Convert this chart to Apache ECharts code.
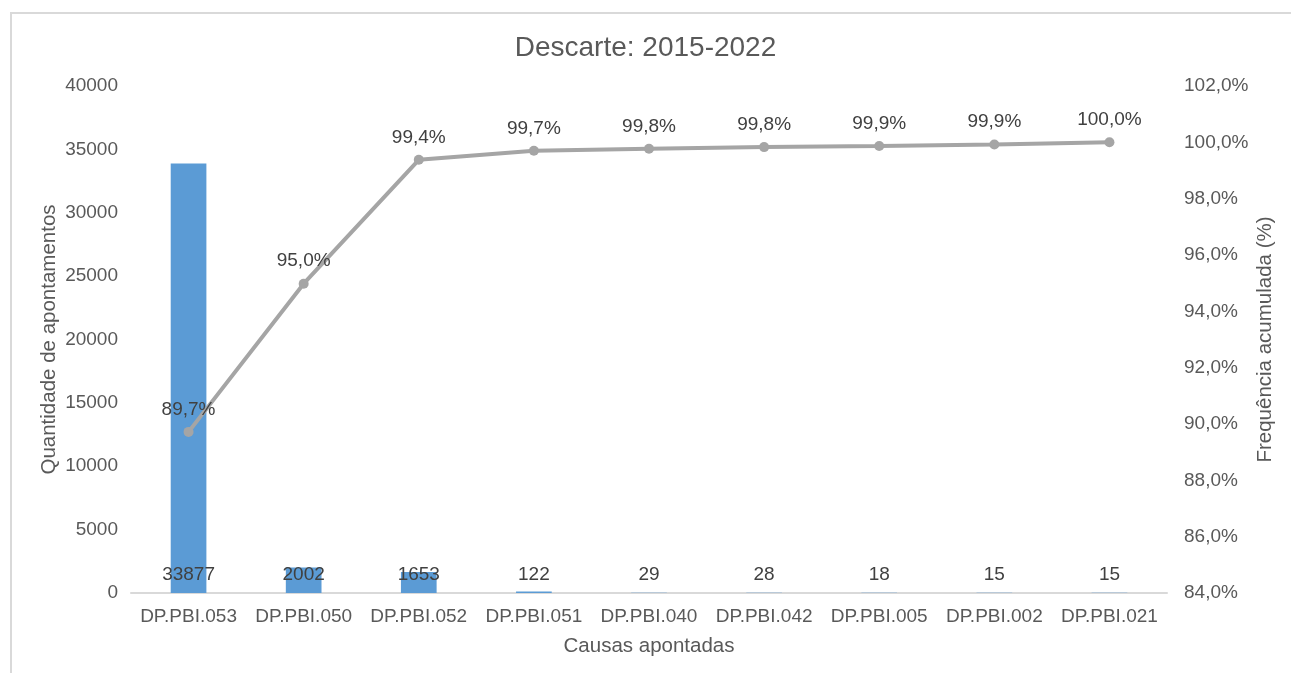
<!DOCTYPE html>
<html>
<head>
<meta charset="utf-8">
<script src="https://cdn.jsdelivr.net/npm/echarts@6/dist/echarts.min.js"></script>
<style>
html,body{margin:0;padding:0;background:#fff;}
#frame{position:absolute;left:10px;top:12px;width:1290px;height:680px;border-left:2px solid #D9D9D9;border-top:2px solid #D9D9D9;}
#chart{position:absolute;left:0;top:0;width:1291px;height:673px;}
</style>
</head>
<body>
<div id="frame"></div>
<div id="chart"></div>
<script>
const categories = ['DP.PBI.053','DP.PBI.050','DP.PBI.052','DP.PBI.051','DP.PBI.040','DP.PBI.042','DP.PBI.005','DP.PBI.002','DP.PBI.021'];
const counts = [33877, 2002, 1653, 122, 29, 28, 18, 15, 15];
const cumulative = [89.72, 94.98, 99.38, 99.70, 99.77, 99.83, 99.87, 99.92, 100.0];
const leftTicks = {min: 0, max: 40000, interval: 5000};
const rightTicks = {min: 84, max: 102, interval: 2};

const FONT = '"Liberation Sans", Arial, sans-serif';
const chart = echarts.init(document.getElementById('chart'), null, {renderer: 'canvas'});
chart.setOption({
  animation: false,
  backgroundColor: 'transparent',
  textStyle: {fontFamily: FONT},
  title: {
    text: 'Descarte: 2015-2022',
    left: 'center',
    top: 29,
    textStyle: {fontFamily: FONT, fontSize: 28, fontWeight: 'normal', color: '#595959'}
  },
  grid: {left: 131, right: 124, top: 86, bottom: 80, containLabel: false},
  xAxis: {
    type: 'category',
    data: categories,
    name: 'Causas apontadas',
    nameLocation: 'middle',
    nameGap: 43,
    nameMoveOverlap: false,
    nameTextStyle: {fontFamily: FONT, fontSize: 20.5, color: '#595959'},
    axisLine: {lineStyle: {color: '#D9D9D9', width: 2}},
    axisTick: {show: false},
    axisLabel: {interval: 0, fontFamily: FONT, fontSize: 19, color: '#595959', margin: 14}
  },
  yAxis: [{
    type: 'value',
    min: leftTicks.min, max: leftTicks.max, interval: leftTicks.interval,
    name: 'Quantidade de apontamentos',
    nameLocation: 'middle',
    nameGap: 71,
    nameMoveOverlap: false,
    nameTextStyle: {fontFamily: FONT, fontSize: 20.5, color: '#595959'},
    axisLine: {show: false},
    axisTick: {show: false},
    splitLine: {show: false},
    axisLabel: {fontFamily: FONT, fontSize: 19, color: '#595959', margin: 13,
      formatter: v => String(v)}
  }, {
    type: 'value',
    min: rightTicks.min, max: rightTicks.max, interval: rightTicks.interval,
    name: 'Frequência acumulada (%)',
    nameLocation: 'middle',
    nameGap: 88,
    nameRotate: 90,
    nameMoveOverlap: false,
    nameTextStyle: {fontFamily: FONT, fontSize: 20.5, color: '#595959'},
    axisLine: {show: false},
    axisTick: {show: false},
    splitLine: {show: false},
    axisLabel: {fontFamily: FONT, fontSize: 19, color: '#595959', margin: 17,
      formatter: v => v.toFixed(1).replace('.', ',') + '%'}
  }],
  series: [{
    type: 'bar',
    data: counts,
    yAxisIndex: 0,
    barWidth: '31%',
    itemStyle: {color: '#5B9BD5'},
    label: {show: true, position: 'insideBottom', distance: 9, fontFamily: FONT, fontSize: 19, color: '#404040'},
    z: 2
  }, {
    type: 'line',
    data: cumulative,
    yAxisIndex: 1,
    symbol: 'circle',
    symbolSize: 10,
    lineStyle: {color: '#A5A5A5', width: 4},
    itemStyle: {color: '#A5A5A5'},
    label: {show: true, position: 'top', distance: 8, fontFamily: FONT, fontSize: 19, color: '#404040',
      formatter: p => p.value.toFixed(1).replace('.', ',') + '%'},
    z: 3
  }]
});
</script>
</body>
</html>
